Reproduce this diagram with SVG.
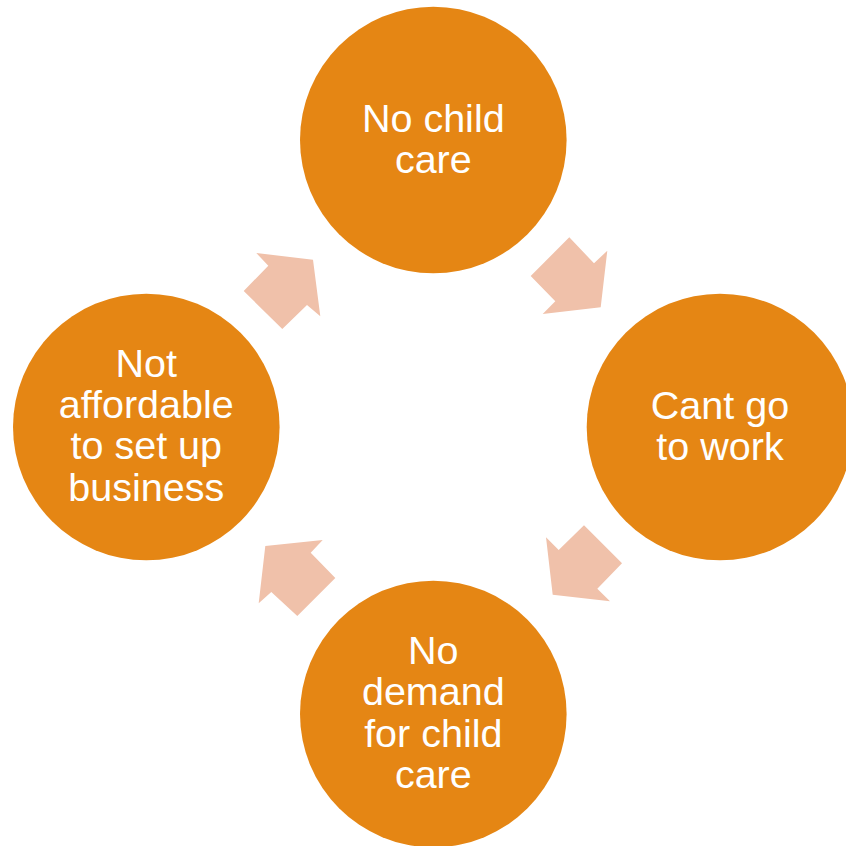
<svg xmlns="http://www.w3.org/2000/svg" width="846" height="846" viewBox="0 0 846 846">
<style>
.node{fill:#E58614}
.arr{fill:#F0C1AA}
.lbl{font-family:"Liberation Sans",Arial,sans-serif;font-size:39.5px;fill:#FFFFFF;text-anchor:middle}
</style>
<rect width="846" height="846" fill="#FFFFFF"/>
<g id="connectors">
<polygon class="arr" points="569.3,237.3 594,263.3 607.3,250.7 600.7,307.3 542.7,314 555.3,301.3 530.7,276"/>
<polygon class="arr" points="584,525.3 622,563.3 597.3,588.7 610,601.3 552.7,594.7 546,537.3 558.7,550"/>
<polygon class="arr" points="322.7,540 310.7,552.7 335.3,578 297.3,616 271.3,592 258.7,603.3 265.3,546"/>
<polygon class="arr" points="256.3,253 313,259.7 320.3,316.3 307,305 282.3,329 243.7,291 268.3,265.7"/>
</g>
<g id="node-top">
<circle class="node" cx="433.3" cy="140" r="133.3"/>
<text class="lbl" x="433.3" y="131.5">No child</text>
<text class="lbl" x="433.3" y="172.5">care</text>
</g>
<g id="node-right">
<circle class="node" cx="720" cy="427" r="133.3"/>
<text class="lbl" x="720" y="419.3">Cant go</text>
<text class="lbl" x="720" y="460">to work</text>
</g>
<g id="node-bottom">
<circle class="node" cx="433.3" cy="714" r="133.3"/>
<text class="lbl" x="433.3" y="664">No</text>
<text class="lbl" x="433.3" y="705">demand</text>
<text class="lbl" x="433.3" y="746.5">for child</text>
<text class="lbl" x="433.3" y="787.5">care</text>
</g>
<g id="node-left">
<circle class="node" cx="146.3" cy="427" r="133.3"/>
<text class="lbl" x="146.3" y="377.3">Not</text>
<text class="lbl" x="146.3" y="418.3">affordable</text>
<text class="lbl" x="146.3" y="459.3">to set up</text>
<text class="lbl" x="146.3" y="500.5">business</text>
</g>
</svg>
